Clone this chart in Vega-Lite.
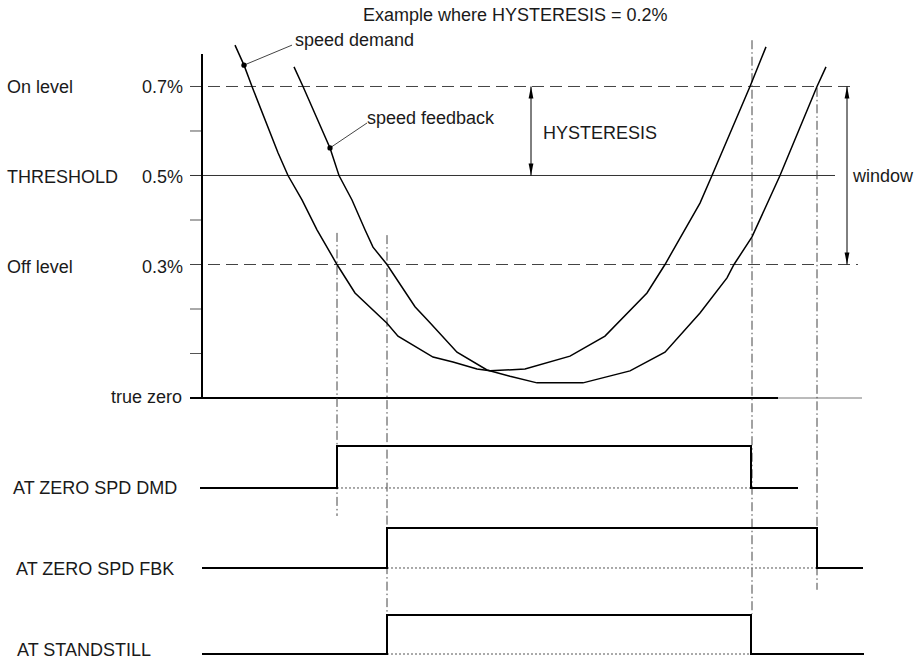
{
  "$schema": "https://vega.github.io/schema/vega-lite/v6.json",
  "width": 914,
  "height": 660,
  "autosize": {"type": "none"},
  "padding": 0,
  "background": "white",
  "config": {
    "view": {"stroke": null},
    "text": {"font": "Liberation Sans", "fontSize": 18, "color": "#1a1a1a", "baseline": "middle"}
  },
  "datasets": {
    "ticks": [
      {"x": 190, "x2": 202, "y": 0.1},
      {"x": 190, "x2": 202, "y": 0.2},
      {"x": 190, "x2": 202, "y": 0.4},
      {"x": 190, "x2": 202, "y": 0.6}
    ],
    "dashedLevels": [
      {"level": "On level", "x": 190, "x2": 855, "y": 0.7},
      {"level": "Off level", "x": 190, "x2": 858, "y": 0.3}
    ],
    "threshold": [{"level": "THRESHOLD", "x": 190, "x2": 835, "y": 0.5}],
    "trueZero": [{"x": 190, "x2": 778, "y": 0}],
    "trueZeroExt": [{"x": 778, "x2": 862, "y": 0}],
    "axisLine": [{"x": 202, "y": 0, "y2": 0.773}],
    "markers": [
      {"x": 337, "y": 0.371, "y2": -0.265},
      {"x": 387, "y": 0.366, "y2": -0.485},
      {"x": 752, "y": 0.804, "y2": -0.485},
      {"x": 817, "y": 0.697, "y2": -0.431}
    ],
    "dims": [
      {"name": "HYSTERESIS", "x": 531, "y": 0.5, "y2": 0.7},
      {"name": "window", "x": 847, "y": 0.3, "y2": 0.7}
    ],
    "arrowUp": [
      {"name": "HYSTERESIS", "x": 531, "y": 0.7},
      {"name": "window", "x": 847, "y": 0.7}
    ],
    "arrowDown": [
      {"name": "HYSTERESIS", "x": 531, "y": 0.5},
      {"name": "window", "x": 847, "y": 0.3}
    ],
    "curves": [
      {"series": "speed demand", "i": 1, "x": 235, "y": 0.793},
      {"series": "speed demand", "i": 2, "x": 244, "y": 0.748},
      {"series": "speed demand", "i": 3, "x": 252, "y": 0.7},
      {"series": "speed demand", "i": 4, "x": 278, "y": 0.551},
      {"series": "speed demand", "i": 5, "x": 288, "y": 0.5},
      {"series": "speed demand", "i": 6, "x": 302, "y": 0.445},
      {"series": "speed demand", "i": 7, "x": 317, "y": 0.378},
      {"series": "speed demand", "i": 8, "x": 337, "y": 0.3},
      {"series": "speed demand", "i": 9, "x": 355, "y": 0.236},
      {"series": "speed demand", "i": 10, "x": 387, "y": 0.168},
      {"series": "speed demand", "i": 11, "x": 398, "y": 0.139},
      {"series": "speed demand", "i": 12, "x": 433, "y": 0.092},
      {"series": "speed demand", "i": 13, "x": 453, "y": 0.081},
      {"series": "speed demand", "i": 14, "x": 477, "y": 0.065},
      {"series": "speed demand", "i": 15, "x": 490, "y": 0.061},
      {"series": "speed demand", "i": 16, "x": 525, "y": 0.065},
      {"series": "speed demand", "i": 17, "x": 570, "y": 0.094},
      {"series": "speed demand", "i": 18, "x": 605, "y": 0.139},
      {"series": "speed demand", "i": 19, "x": 647, "y": 0.236},
      {"series": "speed demand", "i": 20, "x": 665, "y": 0.3},
      {"series": "speed demand", "i": 21, "x": 700, "y": 0.438},
      {"series": "speed demand", "i": 22, "x": 712, "y": 0.5},
      {"series": "speed demand", "i": 23, "x": 750, "y": 0.7},
      {"series": "speed demand", "i": 24, "x": 766, "y": 0.789},
      {"series": "speed feedback", "i": 1, "x": 294, "y": 0.744},
      {"series": "speed feedback", "i": 2, "x": 303, "y": 0.7},
      {"series": "speed feedback", "i": 3, "x": 330, "y": 0.562},
      {"series": "speed feedback", "i": 4, "x": 339, "y": 0.5},
      {"series": "speed feedback", "i": 5, "x": 352, "y": 0.445},
      {"series": "speed feedback", "i": 6, "x": 365, "y": 0.378},
      {"series": "speed feedback", "i": 7, "x": 373, "y": 0.339},
      {"series": "speed feedback", "i": 8, "x": 387, "y": 0.3},
      {"series": "speed feedback", "i": 9, "x": 415, "y": 0.205},
      {"series": "speed feedback", "i": 10, "x": 430, "y": 0.169},
      {"series": "speed feedback", "i": 11, "x": 457, "y": 0.103},
      {"series": "speed feedback", "i": 12, "x": 487, "y": 0.063},
      {"series": "speed feedback", "i": 13, "x": 510, "y": 0.049},
      {"series": "speed feedback", "i": 14, "x": 537, "y": 0.034},
      {"series": "speed feedback", "i": 15, "x": 583, "y": 0.034},
      {"series": "speed feedback", "i": 16, "x": 630, "y": 0.061},
      {"series": "speed feedback", "i": 17, "x": 665, "y": 0.103},
      {"series": "speed feedback", "i": 18, "x": 700, "y": 0.191},
      {"series": "speed feedback", "i": 19, "x": 727, "y": 0.27},
      {"series": "speed feedback", "i": 20, "x": 734, "y": 0.3},
      {"series": "speed feedback", "i": 21, "x": 752, "y": 0.362},
      {"series": "speed feedback", "i": 22, "x": 780, "y": 0.5},
      {"series": "speed feedback", "i": 23, "x": 817, "y": 0.7},
      {"series": "speed feedback", "i": 24, "x": 826, "y": 0.744}
    ],
    "leaders": [
      {"series": "speed demand", "x": 244, "y": 0.748, "x2": 292, "y2": 0.793},
      {"series": "speed feedback", "x": 330, "y": 0.562, "x2": 367, "y2": 0.618}
    ],
    "dots": [
      {"series": "speed demand", "x": 244, "y": 0.748},
      {"series": "speed feedback", "x": 330, "y": 0.562}
    ],
    "baselines": [
      {"signal": "AT ZERO SPD DMD", "x": 337, "x2": 751, "y": -0.2022},
      {"signal": "AT ZERO SPD FBK", "x": 387, "x2": 817, "y": -0.382},
      {"signal": "AT STANDSTILL", "x": 387, "x2": 751, "y": -0.5753}
    ],
    "signals": [
      {"signal": "AT ZERO SPD DMD", "i": 1, "x": 200, "y": -0.2022},
      {"signal": "AT ZERO SPD DMD", "i": 2, "x": 337, "y": -0.2022},
      {"signal": "AT ZERO SPD DMD", "i": 3, "x": 337, "y": -0.1079},
      {"signal": "AT ZERO SPD DMD", "i": 4, "x": 751, "y": -0.1079},
      {"signal": "AT ZERO SPD DMD", "i": 5, "x": 751, "y": -0.2022},
      {"signal": "AT ZERO SPD DMD", "i": 6, "x": 798, "y": -0.2022},
      {"signal": "AT ZERO SPD FBK", "i": 1, "x": 202, "y": -0.382},
      {"signal": "AT ZERO SPD FBK", "i": 2, "x": 387, "y": -0.382},
      {"signal": "AT ZERO SPD FBK", "i": 3, "x": 387, "y": -0.2921},
      {"signal": "AT ZERO SPD FBK", "i": 4, "x": 817, "y": -0.2921},
      {"signal": "AT ZERO SPD FBK", "i": 5, "x": 817, "y": -0.382},
      {"signal": "AT ZERO SPD FBK", "i": 6, "x": 863, "y": -0.382},
      {"signal": "AT STANDSTILL", "i": 1, "x": 202, "y": -0.5753},
      {"signal": "AT STANDSTILL", "i": 2, "x": 387, "y": -0.5753},
      {"signal": "AT STANDSTILL", "i": 3, "x": 387, "y": -0.4876},
      {"signal": "AT STANDSTILL", "i": 4, "x": 751, "y": -0.4876},
      {"signal": "AT STANDSTILL", "i": 5, "x": 751, "y": -0.5753},
      {"signal": "AT STANDSTILL", "i": 6, "x": 864, "y": -0.5753}
    ],
    "labelsLeft": [
      {"label": "Example where HYSTERESIS = 0.2%", "x": 363, "y": 0.858},
      {"label": "speed demand", "x": 295, "y": 0.803},
      {"label": "speed feedback", "x": 367, "y": 0.628},
      {"label": "On level", "x": 7, "y": 0.696},
      {"label": "THRESHOLD", "x": 7, "y": 0.495},
      {"label": "Off level", "x": 7, "y": 0.293},
      {"label": "HYSTERESIS", "x": 543, "y": 0.594},
      {"label": "window", "x": 853, "y": 0.497},
      {"label": "AT ZERO SPD DMD", "x": 13, "y": -0.204},
      {"label": "AT ZERO SPD FBK", "x": 16, "y": -0.386},
      {"label": "AT STANDSTILL", "x": 17, "y": -0.5675}
    ],
    "labelsRight": [
      {"label": "0.7%", "x": 183, "y": 0.696},
      {"label": "0.5%", "x": 183, "y": 0.495},
      {"label": "0.3%", "x": 183, "y": 0.293},
      {"label": "true zero", "x": 182, "y": 0.001}
    ]
  },
  "encoding": {
    "x": {"field": "x", "type": "quantitative", "scale": {"domain": [0, 914], "nice": false, "zero": false}, "axis": null},
    "y": {"field": "y", "type": "quantitative", "scale": {"domain": [-0.58876, 0.89438], "nice": false, "zero": false}, "axis": null}
  },
  "layer": [
    {"data": {"name": "ticks"}, "mark": {"type": "rule", "stroke": "#555", "strokeWidth": 1}, "encoding": {"x2": {"field": "x2"}}},
    {"data": {"name": "dashedLevels"}, "mark": {"type": "rule", "stroke": "#444", "strokeWidth": 1, "strokeDash": [12, 6]}, "encoding": {"x2": {"field": "x2"}}},
    {"data": {"name": "threshold"}, "mark": {"type": "rule", "stroke": "#333", "strokeWidth": 1}, "encoding": {"x2": {"field": "x2"}}},
    {"data": {"name": "trueZero"}, "mark": {"type": "rule", "stroke": "#000", "strokeWidth": 2}, "encoding": {"x2": {"field": "x2"}}},
    {"data": {"name": "trueZeroExt"}, "mark": {"type": "rule", "stroke": "#777", "strokeWidth": 1}, "encoding": {"x2": {"field": "x2"}}},
    {"data": {"name": "axisLine"}, "mark": {"type": "rule", "stroke": "#000", "strokeWidth": 2}, "encoding": {"y2": {"field": "y2"}}},
    {"data": {"name": "markers"}, "mark": {"type": "rule", "stroke": "#444", "strokeWidth": 1, "strokeDash": [9, 3, 1.5, 3]}, "encoding": {"y2": {"field": "y2"}}},
    {"data": {"name": "baselines"}, "mark": {"type": "rule", "stroke": "#555", "strokeWidth": 1, "strokeDash": [2, 2]}, "encoding": {"x2": {"field": "x2"}}},
    {"data": {"name": "dims"}, "mark": {"type": "rule", "stroke": "#000", "strokeWidth": 1}, "encoding": {"y2": {"field": "y2"}}},
    {"data": {"name": "arrowUp"}, "mark": {"type": "point", "shape": "M0,0L0.3,1.5L-0.3,1.5Z", "size": 256, "filled": true, "color": "#000", "opacity": 1}},
    {"data": {"name": "arrowDown"}, "mark": {"type": "point", "shape": "M0,0L0.3,-1.5L-0.3,-1.5Z", "size": 256, "filled": true, "color": "#000", "opacity": 1}},
    {"data": {"name": "curves"}, "mark": {"type": "line", "stroke": "#000", "strokeWidth": 1.5}, "encoding": {"detail": {"field": "series"}, "order": {"field": "i", "type": "quantitative"}}},
    {"data": {"name": "leaders"}, "mark": {"type": "rule", "stroke": "#444", "strokeWidth": 1}, "encoding": {"x2": {"field": "x2"}, "y2": {"field": "y2"}}},
    {"data": {"name": "dots"}, "mark": {"type": "point", "shape": "circle", "size": 28, "filled": true, "color": "#000", "opacity": 1}},
    {"data": {"name": "signals"}, "mark": {"type": "line", "stroke": "#000", "strokeWidth": 2}, "encoding": {"detail": {"field": "signal"}, "order": {"field": "i", "type": "quantitative"}}},
    {"data": {"name": "labelsLeft"}, "mark": {"type": "text", "align": "left"}, "encoding": {"text": {"field": "label"}}},
    {"data": {"name": "labelsRight"}, "mark": {"type": "text", "align": "right"}, "encoding": {"text": {"field": "label"}}}
  ]
}
